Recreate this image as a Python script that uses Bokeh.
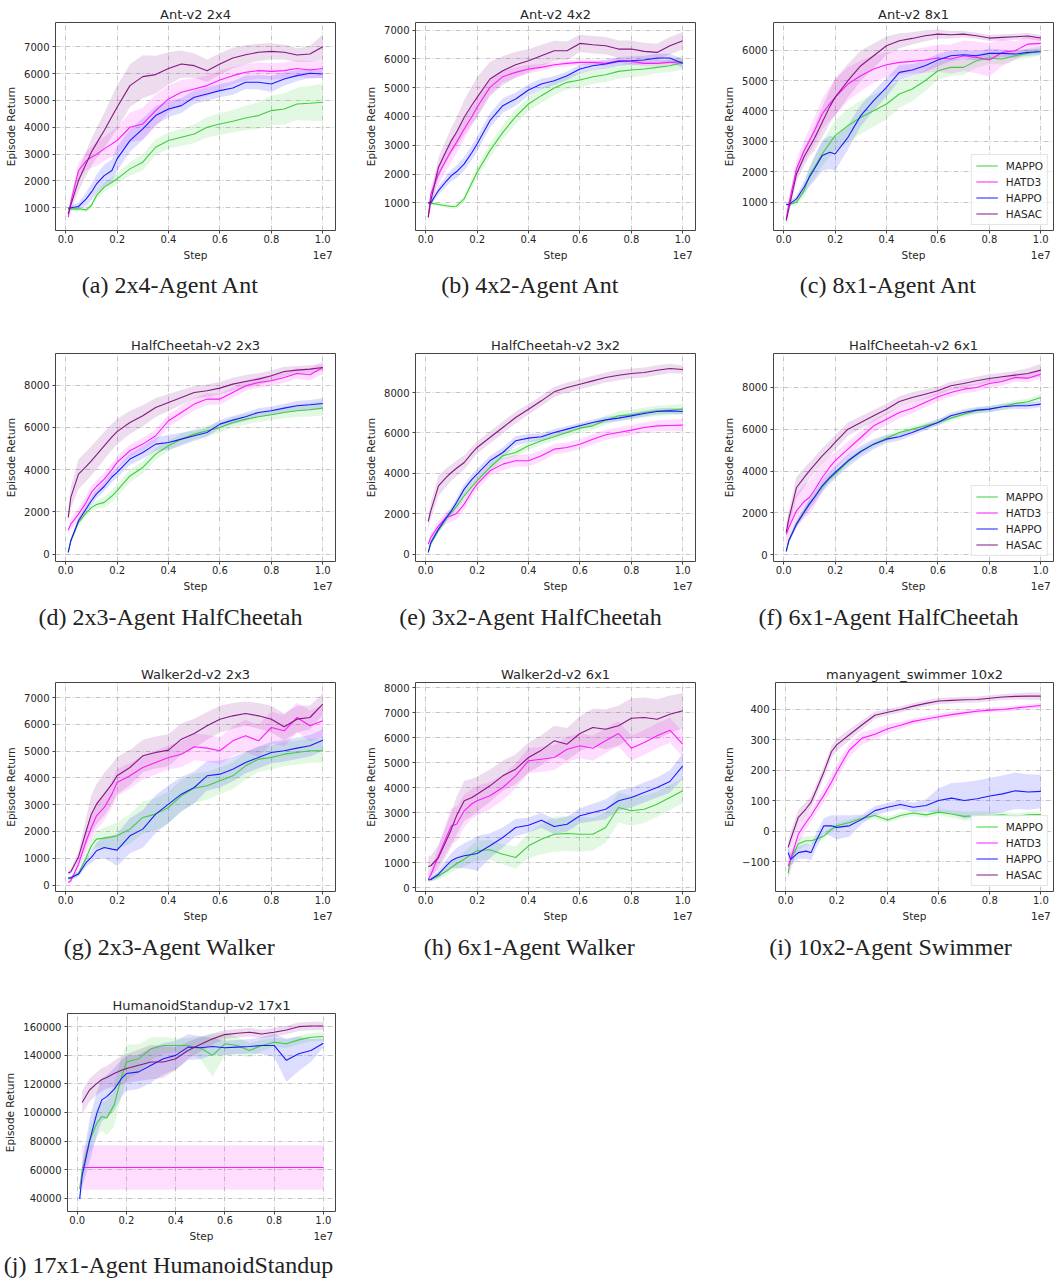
from bokeh.plotting import figure
from bokeh.models import (Range1d, FixedTicker, Legend, LegendItem, CustomJSTickFormatter,
                          LinearAxis, Title)
from bokeh.layouts import column, row
from bokeh.embed import file_html
from bokeh.resources import INLINE

ALGOS = ["MAPPO", "HATD3", "HAPPO", "HASAC"]
COLORS = ["#3ccf3c", "#ff1aff", "#1a1aff", "#861686"]

STEPS = [100000, 200000, 500000, 800000, 1000000, 1200000, 1500000, 1800000, 2000000,
         2500000, 3000000, 3500000, 4000000, 4500000, 5000000, 5500000, 6000000, 6500000,
         7000000, 7500000, 8000000, 8500000, 9000000, 9500000, 10000000]
X_TICKS = [0, 2000000, 4000000, 6000000, 8000000, 10000000]

# (a) Ant-v2 2x4
ANT24_MAPPO = [950, 960, 963, 925, 1087, 1460, 1770, 1950, 2080, 2450, 2700, 3256, 3504, 3628, 3752, 4000, 4124, 4223, 4347, 4434, 4620, 4682, 4868, 4892, 4930]
ANT24_MAPPO_SD = [50, 60, 80, 90, 100, 130, 160, 180, 200, 250, 300, 300, 300, 320, 350, 380, 400, 420, 450, 500, 550, 580, 600, 650, 700]
ANT24_HATD3 = [653, 1200, 2390, 2750, 2884, 2990, 3194, 3380, 3504, 4000, 4124, 4620, 5054, 5300, 5425, 5550, 5760, 5921, 6045, 6107, 6082, 6107, 6190, 6130, 6190]
ANT24_HATD3_SD = [100, 200, 300, 350, 400, 420, 450, 480, 500, 550, 600, 600, 500, 450, 400, 380, 350, 320, 300, 300, 300, 300, 300, 320, 350]
ANT24_HAPPO = [980, 1000, 1050, 1335, 1583, 1890, 2200, 2390, 2822, 3504, 3938, 4434, 4682, 4806, 5116, 5240, 5364, 5463, 5674, 5674, 5611, 5797, 5921, 6008, 5983]
ANT24_HAPPO_SD = [50, 80, 150, 250, 300, 350, 400, 420, 450, 420, 400, 350, 300, 280, 250, 250, 250, 250, 250, 270, 300, 250, 200, 170, 150]
ANT24_HASAC = [780, 1100, 2016, 2650, 3070, 3400, 3876, 4400, 4744, 5550, 5884, 5960, 6190, 6355, 6293, 6107, 6355, 6580, 6700, 6790, 6826, 6790, 6690, 6727, 7000]
ANT24_HASAC_SD = [150, 250, 400, 450, 500, 550, 650, 750, 800, 800, 800, 700, 600, 500, 450, 420, 400, 380, 350, 320, 300, 280, 250, 300, 450]

# (b) Ant-v2 4x2
ANT42_MAPPO = [1000, 990, 942, 900, 873, 884, 1139, 1700, 2064, 2815, 3450, 3994, 4434, 4723, 4988, 5185, 5266, 5382, 5451, 5566, 5613, 5647, 5705, 5763, 5879]
ANT42_MAPPO_SD = [40, 50, 60, 70, 80, 90, 120, 170, 200, 230, 250, 250, 250, 250, 250, 250, 250, 250, 250, 250, 250, 230, 200, 220, 250]
ANT42_HATD3 = [500, 1300, 2000, 2500, 2815, 3100, 3566, 4000, 4318, 5012, 5382, 5532, 5647, 5705, 5798, 5844, 5879, 5879, 5844, 5936, 5913, 5844, 5844, 5879, 5890]
ANT42_HATD3_SD = [150, 250, 350, 400, 400, 380, 350, 320, 300, 250, 200, 180, 150, 120, 100, 100, 100, 100, 100, 100, 100, 100, 100, 100, 100]
ANT42_HAPPO = [1000, 1000, 1428, 1750, 1948, 2080, 2353, 2750, 3046, 3855, 4376, 4607, 4919, 5127, 5243, 5416, 5647, 5763, 5820, 5913, 5936, 5960, 6029, 6029, 5844]
ANT42_HAPPO_SD = [50, 80, 150, 180, 200, 220, 240, 250, 250, 250, 250, 230, 200, 180, 150, 150, 150, 150, 150, 150, 150, 150, 150, 150, 150]
ANT42_HASAC = [503, 1080, 2237, 2800, 3162, 3450, 3971, 4400, 4665, 5300, 5590, 5798, 5936, 6110, 6283, 6283, 6538, 6491, 6457, 6341, 6341, 6260, 6225, 6457, 6630]
ANT42_HASAC_SD = [150, 250, 350, 400, 450, 500, 600, 650, 700, 600, 500, 450, 400, 380, 350, 320, 300, 300, 300, 300, 300, 300, 300, 300, 300]

# (c) Ant-v2 8x1
ANT81_MAPPO = [923, 923, 1000, 1383, 1875, 2150, 2586, 2950, 3188, 3516, 3790, 4009, 4228, 4556, 4720, 4993, 5322, 5431, 5431, 5650, 5737, 5705, 5814, 5891, 5978]
ANT81_MAPPO_SD = [50, 60, 100, 200, 300, 350, 400, 450, 500, 550, 550, 520, 500, 450, 400, 350, 300, 280, 250, 220, 200, 180, 150, 150, 150]
ANT81_HATD3 = [453, 945, 2094, 2700, 3024, 3350, 3900, 4250, 4446, 4884, 5158, 5376, 5519, 5595, 5628, 5672, 5737, 5705, 5814, 5760, 5672, 5923, 5978, 6197, 6219]
ANT81_HATD3_SD = [100, 200, 300, 350, 400, 450, 500, 550, 600, 550, 500, 450, 400, 400, 400, 420, 450, 480, 500, 520, 550, 450, 300, 250, 200]
ANT81_HAPPO = [923, 923, 1109, 1500, 1820, 2100, 2532, 2640, 2586, 3133, 3845, 4337, 4775, 5267, 5344, 5486, 5672, 5814, 5847, 5814, 5891, 5891, 5869, 5923, 5945]
ANT81_HAPPO_SD = [50, 60, 120, 200, 300, 400, 500, 550, 550, 400, 350, 320, 300, 250, 200, 200, 200, 170, 150, 150, 150, 130, 120, 110, 100]
ANT81_HASAC = [398, 781, 1930, 2500, 2805, 3100, 3626, 4150, 4446, 4993, 5486, 5814, 6142, 6306, 6383, 6470, 6525, 6503, 6525, 6470, 6394, 6416, 6438, 6460, 6394]
ANT81_HASAC_SD = [80, 150, 250, 300, 300, 400, 500, 550, 600, 550, 500, 400, 300, 250, 200, 180, 150, 120, 100, 100, 100, 100, 100, 100, 100]

# (d) HalfCheetah-v2 2x3
HC23_MAPPO = [79, 631, 1499, 1950, 2200, 2350, 2450, 2750, 3000, 3700, 4100, 4734, 5128, 5444, 5680, 5838, 5996, 6233, 6391, 6501, 6596, 6706, 6785, 6832, 6911]
HC23_MAPPO_SD = [50, 100, 150, 150, 150, 200, 250, 280, 300, 300, 300, 280, 250, 250, 250, 250, 250, 250, 250, 250, 250, 270, 300, 320, 350]
HC23_HATD3 = [1136, 1420, 1893, 2450, 2919, 3200, 3550, 4000, 4339, 4891, 5207, 5602, 6312, 6706, 7101, 7337, 7337, 7653, 7968, 8126, 8205, 8363, 8552, 8489, 8836]
HC23_HATD3_SD = [200, 250, 300, 300, 300, 300, 300, 300, 300, 300, 300, 300, 300, 300, 300, 280, 250, 250, 250, 250, 250, 250, 250, 280, 300]
HC23_HAPPO = [79, 631, 1578, 2150, 2525, 2850, 3200, 3650, 3866, 4497, 4813, 5207, 5286, 5444, 5602, 5759, 6154, 6343, 6501, 6706, 6785, 6911, 7022, 7069, 7132]
HC23_HAPPO_SD = [50, 100, 150, 180, 200, 220, 230, 240, 250, 280, 300, 330, 350, 300, 250, 220, 200, 200, 200, 200, 200, 210, 220, 230, 250]
HC23_HASAC = [1736, 2682, 3787, 4150, 4418, 4700, 5128, 5550, 5800, 6233, 6548, 6943, 7180, 7416, 7653, 7732, 7858, 8047, 8174, 8284, 8442, 8647, 8710, 8757, 8836]
HC23_HASAC_SD = [300, 500, 700, 700, 700, 680, 650, 620, 600, 550, 500, 450, 400, 350, 300, 300, 300, 300, 300, 280, 250, 220, 200, 180, 150]

# (e) HalfCheetah-v2 3x2
HC32_MAPPO = [82, 495, 1188, 1750, 2062, 2350, 2887, 3350, 3629, 4289, 4866, 5031, 5361, 5608, 5806, 6021, 6235, 6350, 6631, 6845, 6895, 7010, 7093, 7126, 7175]
HC32_MAPPO_SD = [50, 100, 150, 170, 200, 200, 200, 200, 200, 200, 200, 200, 200, 200, 200, 200, 200, 200, 220, 240, 250, 250, 250, 250, 250]
HC32_HATD3 = [495, 825, 1402, 1814, 1897, 2012, 2474, 3100, 3464, 4124, 4454, 4619, 4619, 4866, 5196, 5278, 5443, 5691, 5905, 6021, 6136, 6268, 6350, 6367, 6384]
HC32_HATD3_SD = [150, 200, 250, 300, 300, 300, 280, 260, 250, 270, 300, 300, 300, 280, 250, 250, 250, 250, 250, 250, 250, 250, 270, 280, 300]
HC32_HAPPO = [82, 577, 1237, 1800, 2144, 2550, 3216, 3700, 3959, 4619, 5031, 5608, 5740, 5806, 6021, 6186, 6350, 6515, 6647, 6730, 6845, 6961, 7060, 7093, 7060]
HC32_HAPPO_SD = [50, 100, 150, 170, 200, 220, 250, 250, 250, 250, 250, 230, 200, 180, 170, 160, 150, 150, 150, 150, 150, 150, 150, 150, 150]
HC32_HASAC = [1616, 2144, 3381, 3800, 4041, 4250, 4536, 5000, 5278, 5773, 6268, 6763, 7175, 7588, 8033, 8247, 8412, 8577, 8742, 8858, 8940, 8990, 9105, 9188, 9138]
HC32_HASAC_SD = [300, 400, 500, 450, 400, 380, 350, 320, 300, 300, 300, 280, 260, 250, 250, 250, 250, 250, 250, 250, 250, 250, 250, 230, 200]

# (f) HalfCheetah-v2 6x1
HC61_MAPPO = [159, 680, 1498, 2080, 2454, 2750, 3251, 3650, 3857, 4462, 4940, 5291, 5578, 5849, 6008, 6167, 6327, 6534, 6725, 6884, 6964, 7076, 7235, 7315, 7522]
HC61_MAPPO_SD = [50, 100, 120, 150, 150, 150, 150, 150, 150, 150, 150, 150, 150, 150, 150, 150, 150, 150, 150, 150, 150, 150, 150, 150, 150]
HC61_HATD3 = [988, 1307, 2104, 2550, 2741, 3100, 3697, 4200, 4494, 5052, 5610, 6167, 6486, 6805, 7012, 7283, 7554, 7761, 7920, 8000, 8191, 8287, 8478, 8446, 8637]
HC61_HATD3_SD = [500, 700, 800, 800, 800, 780, 700, 550, 400, 350, 300, 300, 300, 270, 250, 230, 220, 200, 200, 200, 200, 200, 200, 200, 200]
HC61_HAPPO = [159, 669, 1466, 2050, 2422, 2750, 3299, 3700, 3936, 4494, 4940, 5291, 5530, 5641, 5849, 6088, 6327, 6645, 6805, 6916, 6964, 7076, 7124, 7124, 7203]
HC61_HAPPO_SD = [50, 100, 150, 200, 250, 280, 300, 300, 300, 300, 280, 250, 200, 170, 150, 150, 150, 150, 150, 150, 150, 150, 150, 150, 150]
HC61_HASAC = [1068, 1705, 3219, 3700, 4016, 4300, 4733, 5100, 5371, 6008, 6327, 6645, 6964, 7331, 7522, 7681, 7841, 8080, 8191, 8319, 8430, 8510, 8590, 8669, 8829]
HC61_HASAC_SD = [300, 400, 500, 450, 400, 380, 360, 350, 350, 320, 300, 280, 260, 250, 250, 230, 200, 200, 200, 200, 200, 200, 200, 250, 300]

# (g) Walker2d-v2 2x3
WALK23_MAPPO = [261, 270, 435, 1032, 1467, 1716, 1753, 1800, 1840, 2089, 2524, 2648, 2897, 3332, 3618, 3705, 3892, 4078, 4451, 4700, 4762, 4886, 4948, 5011, 5011]
WALK23_MAPPO_SD = [50, 60, 100, 150, 200, 300, 400, 450, 500, 550, 600, 600, 600, 580, 550, 520, 500, 500, 500, 480, 450, 450, 450, 450, 450]
WALK23_HATD3 = [99, 162, 780, 1654, 2151, 2586, 2897, 3394, 3829, 4078, 4389, 4575, 4762, 4886, 5160, 5110, 5011, 5384, 5570, 5384, 5881, 5757, 6254, 5943, 6130]
WALK23_HATD3_SD = [50, 80, 200, 400, 500, 500, 500, 500, 500, 480, 450, 450, 450, 480, 500, 500, 500, 550, 600, 600, 600, 580, 550, 580, 600]
WALK23_HAPPO = [261, 270, 410, 845, 1032, 1281, 1405, 1343, 1305, 1840, 2089, 2648, 3021, 3394, 3643, 4078, 4140, 4327, 4575, 4762, 4948, 5011, 5110, 5197, 5408]
WALK23_HAPPO_SD = [50, 60, 100, 150, 200, 300, 400, 500, 600, 650, 700, 700, 700, 650, 600, 550, 500, 450, 400, 400, 400, 400, 400, 400, 400]
WALK23_HASAC = [448, 497, 1050, 2027, 2648, 3021, 3394, 3767, 4078, 4389, 4824, 4948, 5035, 5446, 5657, 5943, 6192, 6316, 6403, 6316, 6192, 5906, 6192, 6254, 6751]
WALK23_HASAC_SD = [80, 100, 200, 500, 700, 750, 800, 750, 700, 650, 600, 600, 600, 580, 550, 520, 500, 480, 450, 480, 500, 500, 500, 450, 400]

# (h) Walker2d-v2 6x1
WALK61_MAPPO = [307, 320, 467, 650, 800, 950, 1133, 1350, 1467, 1507, 1333, 1200, 1667, 1933, 2133, 2160, 2133, 2133, 2400, 3200, 3067, 3133, 3333, 3600, 3867]
WALK61_MAPPO_SD = [50, 80, 150, 200, 200, 250, 300, 350, 400, 400, 400, 450, 500, 600, 700, 700, 700, 650, 600, 600, 600, 550, 500, 500, 500]
WALK61_HATD3 = [333, 500, 1267, 2000, 2467, 2533, 3067, 3350, 3467, 3667, 4000, 4467, 5067, 5133, 5200, 5533, 5667, 5573, 5867, 6160, 5573, 5800, 6067, 6293, 5733]
WALK61_HATD3_SD = [100, 200, 400, 600, 700, 700, 650, 600, 600, 550, 500, 500, 500, 500, 500, 500, 500, 500, 500, 500, 500, 500, 500, 500, 500]
WALK61_HAPPO = [307, 320, 533, 867, 1067, 1180, 1267, 1320, 1360, 1667, 2000, 2400, 2493, 2693, 2440, 2533, 2867, 3000, 3133, 3467, 3600, 3800, 4000, 4240, 4867]
WALK61_HAPPO_SD = [50, 80, 150, 250, 300, 400, 500, 600, 700, 500, 400, 350, 300, 300, 300, 300, 300, 350, 400, 400, 400, 400, 400, 450, 500]
WALK61_HASAC = [840, 870, 1200, 1867, 2333, 2867, 3467, 3600, 3733, 4067, 4467, 4733, 5200, 5493, 5867, 5733, 6160, 6400, 6333, 6467, 6773, 6800, 6733, 6933, 7067]
WALK61_HASAC_SD = [400, 400, 500, 600, 700, 750, 800, 750, 700, 650, 600, 600, 600, 600, 600, 650, 700, 750, 800, 800, 800, 800, 800, 750, 700]

# (i) manyagent_swimmer 10x2
SWIM_MAPPO = [-137, -92, -42, -31, -31, -26, -15, 7, 18, 29, 43, 52, 37, 52, 60, 54, 63, 57, 49, 52, 52, 54, 49, 54, 55]
SWIM_MAPPO_SD = [20, 20, 20, 15, 15, 12, 10, 10, 10, 10, 10, 10, 10, 10, 10, 10, 10, 12, 15, 14, 12, 10, 10, 10, 10]
SWIM_HATD3 = [-114, -92, -9, 29, 52, 79, 118, 162, 195, 267, 306, 319, 337, 348, 361, 369, 376, 383, 389, 394, 398, 400, 405, 409, 413]
SWIM_HATD3_SD = [40, 40, 30, 25, 20, 20, 22, 25, 25, 22, 20, 18, 15, 12, 10, 10, 10, 10, 9, 8, 8, 8, 8, 8, 8]
SWIM_HAPPO = [-70, -92, -70, -65, -70, -31, 18, 18, 13, 18, 40, 68, 79, 88, 79, 85, 101, 109, 101, 107, 116, 123, 133, 129, 131]
SWIM_HAPPO_SD = [15, 20, 20, 25, 25, 25, 25, 35, 40, 35, 15, 15, 15, 15, 15, 20, 40, 50, 60, 60, 60, 60, 60, 58, 55]
SWIM_HASAC = [-53, -26, 46, 74, 96, 135, 195, 262, 284, 317, 350, 381, 391, 400, 411, 420, 428, 430, 432, 433, 437, 441, 443, 444, 444]
SWIM_HASAC_SD = [20, 25, 25, 22, 20, 20, 20, 20, 20, 18, 15, 12, 10, 10, 10, 10, 10, 10, 10, 10, 10, 10, 10, 12, 12]

# (j) HumanoidStandup-v2 17x1
HUMAN_MAPPO = [46462, 59154, 80000, 92615, 97231, 96077, 105308, 124923, 135308, 137615, 144538, 146846, 146846, 146846, 145231, 139923, 148000, 146846, 143385, 146846, 149154, 148000, 150769, 152615, 153077]
HUMAN_MAPPO_SD = [3000, 5000, 8000, 10000, 10000, 12000, 15000, 14000, 12000, 10000, 8000, 6000, 5000, 5000, 8000, 15000, 8000, 6000, 5000, 4000, 3000, 3000, 3000, 3000, 3000]
HUMAN_HATD3 = [None, 61500, 61500, 61500, 61500, 61500, 61500, 61500, 61500, 61500, 61500, 61500, 61500, 61500, 61500, 61500, 61500, 61500, 61500, 61500, 61500, 61500, 61500, 61500, 61500]
HUMAN_HATD3_SD = [None, 15500, 15500, 15500, 15500, 15500, 15500, 15500, 15500, 15500, 15500, 15500, 15500, 15500, 15500, 15500, 15500, 15500, 15500, 15500, 15500, 15500, 15500, 15500, 15500]
HUMAN_HAPPO = [39538, 55692, 80000, 99538, 108769, 111077, 116154, 123769, 127231, 128385, 133000, 137615, 139923, 145692, 145231, 146154, 145231, 145692, 146154, 146846, 146846, 136462, 141077, 143385, 148462]
HUMAN_HAPPO_SD = [3000, 8000, 15000, 15000, 15000, 15000, 15000, 13000, 12000, 12000, 12000, 11000, 10000, 9000, 8000, 6000, 5000, 5000, 5000, 6000, 8000, 15000, 12000, 8000, 3000]
HUMAN_HASAC = [None, 106923, 115692, 120308, 123077, 124500, 127231, 129500, 130692, 133000, 135308, 135308, 137615, 143385, 147538, 151462, 154462, 155385, 156077, 154923, 156077, 157692, 160000, 160462, 160462]
HUMAN_HASAC_SD = [None, 8000, 8000, 8000, 8000, 8000, 9000, 10000, 10000, 11000, 12000, 11000, 8000, 6000, 5000, 4000, 3000, 3000, 3000, 3000, 3000, 3000, 3000, 3000, 3000]

TITLES = ["Ant-v2 2x4", "Ant-v2 4x2", "Ant-v2 8x1",
          "HalfCheetah-v2 2x3", "HalfCheetah-v2 3x2", "HalfCheetah-v2 6x1",
          "Walker2d-v2 2x3", "Walker2d-v2 6x1", "manyagent_swimmer 10x2",
          "HumanoidStandup-v2 17x1"]
CAPTIONS = ["(a) 2x4-Agent Ant", "(b) 4x2-Agent Ant", "(c) 8x1-Agent Ant",
            "(d) 2x3-Agent HalfCheetah", "(e) 3x2-Agent HalfCheetah", "(f) 6x1-Agent HalfCheetah",
            "(g) 2x3-Agent Walker", "(h) 6x1-Agent Walker", "(i) 10x2-Agent Swimmer",
            "(j) 17x1-Agent HumanoidStandup"]
Y_TICKS = [
    [1000, 2000, 3000, 4000, 5000, 6000, 7000],
    [1000, 2000, 3000, 4000, 5000, 6000, 7000],
    [1000, 2000, 3000, 4000, 5000, 6000],
    [0, 2000, 4000, 6000, 8000],
    [0, 2000, 4000, 6000, 8000],
    [0, 2000, 4000, 6000, 8000],
    [0, 1000, 2000, 3000, 4000, 5000, 6000, 7000],
    [0, 1000, 2000, 3000, 4000, 5000, 6000, 7000, 8000],
    [-100, 0, 100, 200, 300, 400],
    [40000, 60000, 80000, 100000, 120000, 140000, 160000],
]
Y_RANGES = [(156, 7900), (40, 7264), (71, 6906), (-350, 9496), (-366, 9931), (-320, 9625),
            (-239, 7560), (-160, 8200), (-197.6, 488.6), (30723, 169208)]
SERIES = [
    [(ANT24_MAPPO, ANT24_MAPPO_SD), (ANT24_HATD3, ANT24_HATD3_SD), (ANT24_HAPPO, ANT24_HAPPO_SD), (ANT24_HASAC, ANT24_HASAC_SD)],
    [(ANT42_MAPPO, ANT42_MAPPO_SD), (ANT42_HATD3, ANT42_HATD3_SD), (ANT42_HAPPO, ANT42_HAPPO_SD), (ANT42_HASAC, ANT42_HASAC_SD)],
    [(ANT81_MAPPO, ANT81_MAPPO_SD), (ANT81_HATD3, ANT81_HATD3_SD), (ANT81_HAPPO, ANT81_HAPPO_SD), (ANT81_HASAC, ANT81_HASAC_SD)],
    [(HC23_MAPPO, HC23_MAPPO_SD), (HC23_HATD3, HC23_HATD3_SD), (HC23_HAPPO, HC23_HAPPO_SD), (HC23_HASAC, HC23_HASAC_SD)],
    [(HC32_MAPPO, HC32_MAPPO_SD), (HC32_HATD3, HC32_HATD3_SD), (HC32_HAPPO, HC32_HAPPO_SD), (HC32_HASAC, HC32_HASAC_SD)],
    [(HC61_MAPPO, HC61_MAPPO_SD), (HC61_HATD3, HC61_HATD3_SD), (HC61_HAPPO, HC61_HAPPO_SD), (HC61_HASAC, HC61_HASAC_SD)],
    [(WALK23_MAPPO, WALK23_MAPPO_SD), (WALK23_HATD3, WALK23_HATD3_SD), (WALK23_HAPPO, WALK23_HAPPO_SD), (WALK23_HASAC, WALK23_HASAC_SD)],
    [(WALK61_MAPPO, WALK61_MAPPO_SD), (WALK61_HATD3, WALK61_HATD3_SD), (WALK61_HAPPO, WALK61_HAPPO_SD), (WALK61_HASAC, WALK61_HASAC_SD)],
    [(SWIM_MAPPO, SWIM_MAPPO_SD), (SWIM_HATD3, SWIM_HATD3_SD), (SWIM_HAPPO, SWIM_HAPPO_SD), (SWIM_HASAC, SWIM_HASAC_SD)],
    [(HUMAN_MAPPO, HUMAN_MAPPO_SD), (HUMAN_HATD3, HUMAN_HATD3_SD), (HUMAN_HAPPO, HUMAN_HAPPO_SD), (HUMAN_HASAC, HUMAN_HASAC_SD)],
]
LEGEND_PANELS = [2, 5, 8]

# layout geometry (pixels)
COL_W = [360, 352, 343]
COL_BL = [55, 55, 61]
COL_BR = [25, 17, 2]
ROW_H = [333, 329, 331, 290]
ROW_BT = [22, 20, 20, 20]
ROW_BB = [103, 101, 102, 70]
CAP_STANDOFF = [12, 15, 15, 11]
X0, X1 = -395000, 10495000

INK = "#262626"
FONT = "DejaVu Sans"

# approximate advance widths (1/1000 em) of the serif caption font, used to centre captions
SERIF_W = {" ": 250, "(": 333, ")": 333, "-": 333, "x": 500, "a": 444, "b": 500, "c": 444,
           "d": 500, "e": 444, "f": 333, "g": 500, "h": 500, "i": 278, "j": 278, "k": 500,
           "l": 278, "m": 778, "n": 500, "o": 500, "p": 500, "r": 333, "s": 389, "t": 278,
           "u": 500, "w": 722, "A": 722, "C": 667, "H": 722, "S": 556, "W": 944}
CAP_SIZE = 24


def caption_width(text):
    return sum(SERIF_W.get(ch, 500) for ch in text) * CAP_SIZE / 1000.0


def make_panel(i):
    r, c = divmod(i, 3)
    W, BR = COL_W[c], COL_BR[c]
    BL = COL_BL[c]
    if i == 9:
        BL = 67
    if i == 8:
        BL = 63
    H, BT, BB = ROW_H[r], ROW_BT[r], ROW_BB[r]
    y0, y1 = Y_RANGES[i]
    p = figure(width=W, height=H, x_range=Range1d(X0, X1), y_range=Range1d(y0, y1),
               output_backend="svg", toolbar_location=None,
               min_border_left=BL, min_border_right=BR, min_border_top=BT, min_border_bottom=BB,
               title=TITLES[i])
    p.title.text_font = FONT
    p.title.text_font_size = "13px"
    p.title.text_font_style = "normal"
    p.title.text_color = INK
    p.title.align = "center"
    p.title.standoff = 1
    p.outline_line_color = "#444444"
    p.outline_line_width = 1

    xa = p.xaxis[0]
    ya = p.yaxis[0]
    for ax in (xa, ya):
        ax.axis_line_color = None
        ax.major_tick_line_color = "#444444"
        ax.major_tick_in = 0
        ax.major_tick_out = 3
        ax.minor_tick_line_color = None
        ax.major_label_text_font = FONT
        ax.major_label_text_font_size = "10px"
        ax.major_label_text_color = INK
        ax.axis_label_text_font = FONT
        ax.axis_label_text_font_size = "10.5px"
        ax.axis_label_text_font_style = "normal"
        ax.axis_label_text_color = INK
    xa.ticker = FixedTicker(ticks=X_TICKS)
    xa.formatter = CustomJSTickFormatter(code="return (tick / 1e7).toFixed(1);")
    xa.major_label_standoff = 1
    ya.ticker = FixedTicker(ticks=Y_TICKS[i])
    ya.formatter = CustomJSTickFormatter(
        code="return tick < 0 ? '\\u2212' + Math.abs(tick) : String(tick);")
    ya.major_label_standoff = 3
    ya.axis_label = "Episode Return"
    ya.axis_label_standoff = 4

    # second row under the tick labels: "Step" (centre) and the offset text "1e7" (right)
    x_mid = (X0 + X1) / 2
    ax2 = LinearAxis(ticker=FixedTicker(ticks=[x_mid, 10000000]),
                     formatter=CustomJSTickFormatter(
                         code="return tick > 9000000 ? '1e7' : 'Step';"),
                     axis_line_color=None, major_tick_line_color=None,
                     minor_tick_line_color=None, major_tick_in=0, major_tick_out=0,
                     major_label_standoff=3, major_label_text_font=FONT,
                     major_label_text_font_size="10.5px", major_label_text_color=INK)
    p.add_layout(ax2, "below")

    for g in (p.xgrid[0], p.ygrid[0]):
        g.grid_line_color = "#b8b8b8"
        g.grid_line_dash = "5 2 1 2"
        g.grid_line_width = 0.8

    prepared = []
    for (mean, sd) in SERIES[i]:
        xs, ys, lo, hi = [], [], [], []
        for s, m, d in zip(STEPS, mean, sd):
            if m is None:
                continue
            xs.append(s)
            ys.append(m)
            lo.append(m - d)
            hi.append(m + d)
        prepared.append((xs, ys, lo, hi))
    for k, (xs, ys, lo, hi) in enumerate(prepared):
        p.varea(x=xs, y1=lo, y2=hi, fill_color=COLORS[k], fill_alpha=0.15)
    lines = []
    for k, (xs, ys, lo, hi) in enumerate(prepared):
        lines.append(p.line(xs, ys, line_color=COLORS[k], line_width=1.1))

    if i in LEGEND_PANELS:
        items = [LegendItem(label=ALGOS[k], renderers=[lines[k]]) for k in range(4)]
        lg = Legend(items=items, location="bottom_right")
        lg.label_text_font = FONT
        lg.label_text_font_size = "10.5px"
        lg.label_text_color = INK
        lg.glyph_width = 22
        lg.glyph_height = 13
        lg.label_height = 13
        lg.label_standoff = 8
        lg.spacing = 3
        lg.padding = 4
        lg.margin = 5
        lg.border_line_color = "#cccccc"
        lg.border_line_width = 1
        lg.background_fill_alpha = 0.85
        p.add_layout(lg)

    cap_dx = 101 if i == 9 else 115
    off = cap_dx - caption_width(CAPTIONS[i]) / 2.0
    cap = Title(text=CAPTIONS[i], align="left", offset=off, standoff=CAP_STANDOFF[r],
                text_font="Liberation Serif", text_font_size="%dpx" % CAP_SIZE,
                text_font_style="normal", text_color="#222222")
    p.add_layout(cap, "below")
    return p


figs = [make_panel(i) for i in range(10)]
layout = column(row(figs[0], figs[1], figs[2]),
                row(figs[3], figs[4], figs[5]),
                row(figs[6], figs[7], figs[8]),
                row(figs[9]))

open("out.html", "w", encoding="utf-8").write(file_html(layout, INLINE, title="HARL curves"))
